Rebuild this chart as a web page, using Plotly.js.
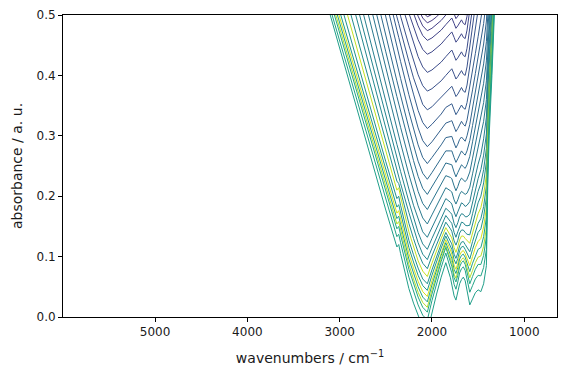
<!DOCTYPE html>
<html>
<head>
<meta charset="utf-8">
<script src="https://cdn.plot.ly/plotly-3.0.1.min.js"></script>
<style>html,body{margin:0;padding:0;background:#fff;}#chart{width:566px;height:374px;}</style>
</head>
<body>
<div id="chart"></div>
<script>
// wavenumber grid (cm^-1)
const wavenumbers = [3300, 3100, 2900, 2700, 2500, 2380, 2360, 2340, 2250, 2200, 2150, 2100, 2050, 2000, 1950, 1900, 1850, 1800, 1785, 1760, 1740, 1720, 1700, 1680, 1660, 1640, 1620, 1590, 1560, 1530, 1500, 1470, 1440, 1410, 1395, 1380, 1350, 1320, 1290];

// absorbance spectra, bottom (last) to top (first)
const s00 = [0.606, 0.498, 0.391, 0.283, 0.177, 0.116, 0.120, 0.105, 0.047, 0.023, 0.001, -0.017, -0.025, 0.008, 0.038, 0.066, 0.090, 0.065, 0.055, 0.035, 0.028, 0.040, 0.055, 0.062, 0.066, 0.060, 0.045, 0.020, 0.030, 0.040, 0.045, 0.042, 0.055, 0.085, 0.220, 0.300, 0.400, 0.510, 0.630];
const s01 = [0.614, 0.509, 0.403, 0.298, 0.193, 0.133, 0.137, 0.123, 0.066, 0.042, 0.020, 0.003, -0.005, 0.027, 0.056, 0.082, 0.106, 0.082, 0.073, 0.054, 0.046, 0.058, 0.073, 0.080, 0.083, 0.077, 0.064, 0.041, 0.052, 0.063, 0.069, 0.068, 0.082, 0.112, 0.242, 0.319, 0.417, 0.526, 0.645];
const s02 = [0.627, 0.522, 0.416, 0.311, 0.206, 0.146, 0.150, 0.136, 0.079, 0.055, 0.033, 0.016, 0.008, 0.038, 0.066, 0.092, 0.115, 0.093, 0.084, 0.065, 0.058, 0.069, 0.083, 0.090, 0.093, 0.087, 0.075, 0.055, 0.067, 0.079, 0.087, 0.087, 0.102, 0.133, 0.257, 0.332, 0.428, 0.535, 0.653];
const s03 = [0.635, 0.530, 0.424, 0.319, 0.214, 0.154, 0.158, 0.144, 0.087, 0.063, 0.041, 0.024, 0.016, 0.045, 0.071, 0.096, 0.118, 0.098, 0.090, 0.071, 0.064, 0.075, 0.089, 0.095, 0.098, 0.093, 0.082, 0.065, 0.077, 0.090, 0.099, 0.101, 0.117, 0.148, 0.267, 0.339, 0.433, 0.539, 0.656];
const s04 = [0.644, 0.539, 0.433, 0.328, 0.223, 0.163, 0.167, 0.153, 0.096, 0.072, 0.050, 0.033, 0.025, 0.053, 0.078, 0.102, 0.123, 0.104, 0.097, 0.079, 0.072, 0.082, 0.096, 0.102, 0.104, 0.099, 0.089, 0.075, 0.089, 0.102, 0.112, 0.115, 0.133, 0.165, 0.278, 0.347, 0.440, 0.544, 0.660];
const s05 = [0.653, 0.548, 0.442, 0.337, 0.232, 0.172, 0.176, 0.162, 0.105, 0.081, 0.059, 0.042, 0.034, 0.060, 0.084, 0.107, 0.128, 0.111, 0.104, 0.086, 0.079, 0.089, 0.102, 0.108, 0.110, 0.105, 0.097, 0.085, 0.100, 0.115, 0.125, 0.130, 0.149, 0.181, 0.289, 0.355, 0.446, 0.549, 0.664];
const s06 = [0.663, 0.558, 0.452, 0.347, 0.242, 0.182, 0.186, 0.172, 0.115, 0.091, 0.069, 0.052, 0.044, 0.069, 0.092, 0.114, 0.134, 0.118, 0.112, 0.095, 0.088, 0.097, 0.110, 0.116, 0.117, 0.112, 0.105, 0.096, 0.112, 0.128, 0.140, 0.146, 0.166, 0.198, 0.300, 0.365, 0.453, 0.555, 0.669];
const s07 = [0.686, 0.578, 0.471, 0.363, 0.257, 0.196, 0.200, 0.185, 0.127, 0.103, 0.081, 0.063, 0.055, 0.078, 0.100, 0.121, 0.140, 0.126, 0.121, 0.104, 0.097, 0.106, 0.118, 0.124, 0.125, 0.120, 0.115, 0.108, 0.125, 0.142, 0.155, 0.163, 0.183, 0.217, 0.313, 0.375, 0.462, 0.562, 0.675];
const s08 = [0.709, 0.600, 0.491, 0.381, 0.273, 0.210, 0.214, 0.199, 0.141, 0.116, 0.093, 0.076, 0.067, 0.089, 0.110, 0.130, 0.148, 0.136, 0.131, 0.115, 0.107, 0.116, 0.128, 0.134, 0.134, 0.130, 0.126, 0.122, 0.139, 0.157, 0.171, 0.181, 0.202, 0.236, 0.327, 0.386, 0.471, 0.570, 0.682];
const s09 = [0.734, 0.623, 0.511, 0.400, 0.289, 0.225, 0.221, 0.208, 0.155, 0.130, 0.107, 0.089, 0.080, 0.101, 0.120, 0.139, 0.157, 0.146, 0.142, 0.126, 0.119, 0.127, 0.139, 0.144, 0.144, 0.140, 0.137, 0.136, 0.154, 0.173, 0.189, 0.200, 0.222, 0.257, 0.342, 0.399, 0.481, 0.579, 0.690];
const s10 = [0.772, 0.657, 0.542, 0.426, 0.312, 0.244, 0.233, 0.221, 0.173, 0.147, 0.123, 0.104, 0.095, 0.114, 0.133, 0.151, 0.168, 0.158, 0.155, 0.140, 0.132, 0.141, 0.151, 0.157, 0.156, 0.152, 0.151, 0.152, 0.171, 0.191, 0.208, 0.221, 0.244, 0.279, 0.359, 0.413, 0.494, 0.590, 0.700];
const s11 = [0.801, 0.684, 0.566, 0.449, 0.333, 0.264, 0.252, 0.241, 0.191, 0.165, 0.140, 0.121, 0.112, 0.130, 0.147, 0.164, 0.180, 0.173, 0.170, 0.155, 0.148, 0.156, 0.166, 0.171, 0.170, 0.166, 0.166, 0.170, 0.191, 0.211, 0.229, 0.244, 0.268, 0.303, 0.378, 0.429, 0.508, 0.603, 0.712];
const s12 = [0.833, 0.713, 0.594, 0.475, 0.356, 0.286, 0.275, 0.263, 0.212, 0.185, 0.161, 0.141, 0.132, 0.148, 0.165, 0.181, 0.196, 0.190, 0.187, 0.174, 0.166, 0.174, 0.183, 0.189, 0.187, 0.183, 0.185, 0.191, 0.213, 0.234, 0.253, 0.269, 0.295, 0.331, 0.400, 0.448, 0.526, 0.619, 0.727];
const s13 = [0.872, 0.750, 0.628, 0.505, 0.384, 0.312, 0.300, 0.288, 0.236, 0.209, 0.184, 0.164, 0.154, 0.169, 0.184, 0.199, 0.214, 0.209, 0.207, 0.194, 0.187, 0.194, 0.203, 0.208, 0.206, 0.203, 0.205, 0.215, 0.237, 0.259, 0.280, 0.297, 0.324, 0.360, 0.424, 0.470, 0.545, 0.636, 0.744];
const s14 = [0.908, 0.784, 0.659, 0.535, 0.412, 0.339, 0.327, 0.314, 0.262, 0.234, 0.208, 0.188, 0.178, 0.192, 0.206, 0.220, 0.234, 0.231, 0.229, 0.217, 0.209, 0.216, 0.225, 0.230, 0.227, 0.224, 0.228, 0.240, 0.263, 0.286, 0.308, 0.327, 0.355, 0.391, 0.450, 0.493, 0.566, 0.656, 0.763];
const s15 = [0.939, 0.813, 0.688, 0.563, 0.439, 0.365, 0.353, 0.340, 0.287, 0.259, 0.233, 0.213, 0.203, 0.215, 0.228, 0.241, 0.255, 0.253, 0.252, 0.240, 0.232, 0.239, 0.247, 0.252, 0.249, 0.246, 0.252, 0.266, 0.290, 0.314, 0.337, 0.358, 0.387, 0.424, 0.477, 0.517, 0.589, 0.677, 0.783];
const s16 = [0.970, 0.843, 0.717, 0.591, 0.465, 0.391, 0.379, 0.366, 0.313, 0.285, 0.258, 0.238, 0.228, 0.239, 0.251, 0.263, 0.275, 0.275, 0.275, 0.264, 0.256, 0.262, 0.270, 0.275, 0.271, 0.268, 0.275, 0.292, 0.317, 0.343, 0.367, 0.389, 0.419, 0.456, 0.504, 0.542, 0.611, 0.698, 0.803];
const s17 = [1.007, 0.879, 0.751, 0.622, 0.495, 0.420, 0.408, 0.395, 0.340, 0.311, 0.285, 0.264, 0.254, 0.264, 0.274, 0.285, 0.297, 0.299, 0.299, 0.288, 0.280, 0.286, 0.294, 0.298, 0.294, 0.291, 0.300, 0.319, 0.346, 0.372, 0.397, 0.421, 0.452, 0.490, 0.531, 0.567, 0.634, 0.720, 0.824];
const s18 = [1.035, 0.907, 0.779, 0.650, 0.523, 0.448, 0.436, 0.423, 0.368, 0.339, 0.313, 0.292, 0.282, 0.290, 0.300, 0.310, 0.321, 0.324, 0.325, 0.315, 0.307, 0.312, 0.319, 0.324, 0.319, 0.316, 0.326, 0.348, 0.376, 0.403, 0.429, 0.454, 0.486, 0.525, 0.561, 0.594, 0.660, 0.744, 0.847];
const s19 = [1.054, 0.927, 0.801, 0.675, 0.549, 0.475, 0.463, 0.450, 0.397, 0.369, 0.342, 0.322, 0.312, 0.319, 0.327, 0.336, 0.347, 0.351, 0.353, 0.343, 0.335, 0.340, 0.347, 0.351, 0.346, 0.344, 0.355, 0.380, 0.408, 0.436, 0.464, 0.490, 0.523, 0.562, 0.593, 0.623, 0.687, 0.770, 0.872];
const s20 = [1.044, 0.924, 0.805, 0.686, 0.567, 0.497, 0.486, 0.474, 0.423, 0.396, 0.372, 0.352, 0.343, 0.348, 0.356, 0.364, 0.373, 0.380, 0.382, 0.373, 0.365, 0.369, 0.375, 0.380, 0.374, 0.372, 0.384, 0.412, 0.441, 0.470, 0.499, 0.527, 0.561, 0.601, 0.626, 0.654, 0.716, 0.797, 0.898];
const s21 = [1.040, 0.926, 0.813, 0.699, 0.587, 0.520, 0.510, 0.498, 0.450, 0.425, 0.401, 0.383, 0.374, 0.378, 0.384, 0.391, 0.400, 0.408, 0.411, 0.402, 0.394, 0.398, 0.404, 0.408, 0.402, 0.400, 0.414, 0.444, 0.474, 0.504, 0.534, 0.564, 0.599, 0.639, 0.659, 0.684, 0.744, 0.824, 0.924];
const s22 = [1.047, 0.938, 0.829, 0.719, 0.611, 0.546, 0.536, 0.525, 0.479, 0.454, 0.431, 0.414, 0.405, 0.409, 0.415, 0.422, 0.431, 0.439, 0.442, 0.433, 0.425, 0.429, 0.435, 0.439, 0.433, 0.431, 0.445, 0.475, 0.505, 0.535, 0.565, 0.595, 0.630, 0.670, 0.690, 0.715, 0.775, 0.855, 0.955];
const s23 = [1.031, 0.929, 0.828, 0.726, 0.626, 0.566, 0.556, 0.546, 0.503, 0.480, 0.459, 0.443, 0.435, 0.439, 0.445, 0.452, 0.461, 0.469, 0.472, 0.463, 0.455, 0.459, 0.465, 0.469, 0.463, 0.461, 0.475, 0.505, 0.535, 0.565, 0.595, 0.625, 0.660, 0.700, 0.720, 0.745, 0.805, 0.885, 0.985];
const s24 = [1.042, 0.943, 0.843, 0.744, 0.645, 0.587, 0.577, 0.567, 0.525, 0.503, 0.482, 0.466, 0.458, 0.462, 0.468, 0.475, 0.484, 0.492, 0.495, 0.486, 0.478, 0.482, 0.488, 0.492, 0.486, 0.484, 0.498, 0.528, 0.558, 0.588, 0.618, 0.648, 0.683, 0.723, 0.743, 0.768, 0.828, 0.908, 1.008];
const s25 = [1.058, 0.959, 0.859, 0.760, 0.661, 0.603, 0.593, 0.583, 0.541, 0.519, 0.498, 0.482, 0.474, 0.478, 0.484, 0.491, 0.500, 0.508, 0.511, 0.502, 0.494, 0.498, 0.504, 0.508, 0.502, 0.500, 0.514, 0.544, 0.574, 0.604, 0.634, 0.664, 0.699, 0.739, 0.759, 0.784, 0.844, 0.924, 1.024];
const s26 = [1.071, 0.972, 0.872, 0.773, 0.674, 0.616, 0.606, 0.596, 0.554, 0.532, 0.511, 0.495, 0.487, 0.491, 0.497, 0.504, 0.513, 0.521, 0.524, 0.515, 0.507, 0.511, 0.517, 0.521, 0.515, 0.513, 0.527, 0.557, 0.587, 0.617, 0.647, 0.677, 0.712, 0.752, 0.772, 0.797, 0.857, 0.937, 1.037];
const s27 = [1.081, 0.982, 0.882, 0.783, 0.684, 0.626, 0.616, 0.606, 0.564, 0.542, 0.521, 0.505, 0.497, 0.501, 0.507, 0.514, 0.523, 0.531, 0.534, 0.525, 0.517, 0.521, 0.527, 0.531, 0.525, 0.523, 0.537, 0.567, 0.597, 0.627, 0.657, 0.687, 0.722, 0.762, 0.782, 0.807, 0.867, 0.947, 1.047];

const spectra = [s00, s01, s02, s03, s04, s05, s06, s07, s08, s09, s10, s11, s12, s13, s14, s15, s16, s17, s18, s19, s20, s21, s22, s23, s24, s25, s26, s27];
const lineColors = ['#1f9e89', '#20a386', '#22a884', '#b5de2b', '#1fa188', '#d8e219', '#1f998a', '#21918c', '#c5e021', '#228c8d', '#24878e', '#25838e', '#277e8e', '#29798e', '#2a748e', '#2c6f8e', '#2e6a8e', '#31658e', '#33608d', '#355b8d', '#38568c', '#3a518b', '#3c4c8a', '#3f4789', '#414287', '#433d85', '#453882', '#46337f'];

const xTicks = [5000, 4000, 3000, 2000, 1000];
const yTicks = [0.0, 0.1, 0.2, 0.3, 0.4, 0.5];

const traces = [];
for (let i = spectra.length - 1; i >= 0; i--) {
  traces.push({
    x: wavenumbers, y: spectra[i], type: 'scatter', mode: 'lines',
    line: {color: lineColors[i], width: 1}, hoverinfo: 'skip', showlegend: false
  });
}

const axisCommon = {
  showgrid: false, zeroline: false, showline: true, mirror: true,
  linecolor: '#000', linewidth: 1, ticks: 'outside', ticklen: 4, tickwidth: 1,
  tickcolor: '#000', tickfont: {size: 12, color: '#1a1a1a'}
};

const layout = {
  width: 566, height: 374,
  margin: {l: 63, r: 9, t: 15, b: 57},
  paper_bgcolor: '#fff', plot_bgcolor: '#fff',
  font: {family: 'DejaVu Sans, sans-serif', color: '#000', size: 12},
  xaxis: Object.assign({}, axisCommon, {
    range: [5998, 645], tickvals: xTicks, ticktext: xTicks.map(String),
    title: {text: 'wavenumbers / cm<sup>−1</sup>', font: {size: 14, color: '#1a1a1a'}, standoff: 14}
  }),
  yaxis: Object.assign({}, axisCommon, {
    range: [0, 0.5], tickvals: yTicks, ticktext: yTicks.map(v => v.toFixed(1)),
    title: {text: 'absorbance / a. u.', font: {size: 14, color: '#1a1a1a'}, standoff: 10}
  })
};

Plotly.newPlot('chart', traces, layout, {staticPlot: true, displayModeBar: false});
</script>
</body>
</html>
